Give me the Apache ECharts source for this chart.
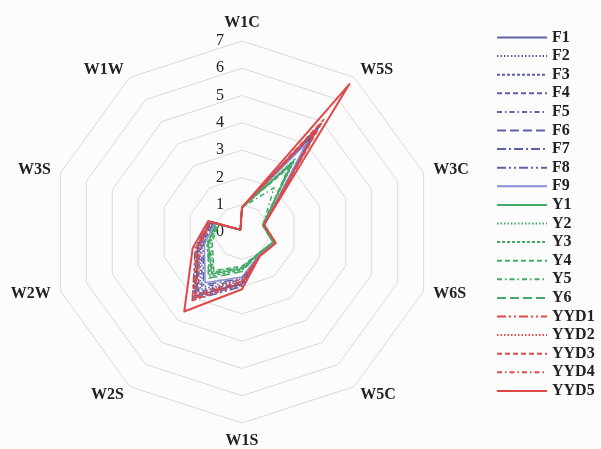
<!DOCTYPE html>
<html>
<head>
<meta charset="utf-8">
<script src="https://cdn.jsdelivr.net/npm/echarts@6/dist/echarts.min.js"></script>
<style>
html,body{margin:0;padding:0;background:#fcfcfc;}
#chart{width:601px;height:449px;}
</style>
</head>
<body>
<div id="chart"></div>
<script>
// Indicators in ECharts order (counter-clockwise from top)
const categories = ['W1C', 'W1W', 'W3S', 'W2W', 'W2S', 'W1S', 'W5C', 'W6S', 'W3C', 'W5S'];
const tickLabels = ['0', '1', '2', '3', '4', '5', '6', '7'];

const seriesNames = ['F1','F2','F3','F4','F5','F6','F7','F8','F9','Y1','Y2','Y3','Y4','Y5','Y6','YYD1','YYD2','YYD3','YYD4','YYD5'];

// values in category order
const F1 = [0.9, 0.1, 1.2, 1.7, 2.9, 1.9, 1.05, 1.25, 0.85, 4.6];
const F2 = [0.9, 0.1, 1.15, 1.6, 2.6, 1.8, 1.05, 1.25, 0.85, 4.4];
const F3 = [0.9, 0.1, 1.2, 1.75, 3.0, 1.95, 1.05, 1.25, 0.85, 4.8];
const F4 = [0.9, 0.1, 1.15, 1.65, 2.7, 1.85, 1.05, 1.25, 0.85, 4.5];
const F5 = [0.9, 0.1, 1.1, 1.55, 2.5, 1.75, 1.05, 1.25, 0.85, 4.2];
const F6 = [0.9, 0.1, 1.2, 1.7, 2.8, 1.9, 1.05, 1.25, 0.85, 4.7];
const F7 = [0.9, 0.1, 1.1, 1.5, 2.4, 1.7, 1.05, 1.25, 0.85, 4.3];
const F8 = [0.9, 0.1, 1.25, 1.8, 3.1, 2.0, 1.05, 1.25, 0.85, 4.9];
const F9 = [0.9, 0.1, 1.05, 1.45, 2.3, 1.65, 1.05, 1.25, 0.85, 4.0];
const Y1 = [0.9, 0.1, 1.0, 1.3, 1.9, 1.35, 1.0, 1.2, 0.8, 3.2];
const Y2 = [0.9, 0.1, 0.95, 1.2, 1.8, 1.3, 1.0, 1.2, 0.8, 3.0];
const Y3 = [0.9, 0.1, 1.0, 1.35, 2.0, 1.4, 1.0, 1.2, 0.8, 3.3];
const Y4 = [0.9, 0.1, 0.9, 1.15, 1.75, 1.25, 1.0, 1.2, 0.8, 2.9];
const Y5 = [0.9, 0.1, 0.95, 1.25, 1.85, 1.3, 1.0, 1.2, 0.8, 2.0];
const Y6 = [0.9, 0.1, 1.0, 1.3, 2.1, 1.45, 1.0, 1.2, 0.8, 3.1];
const YYD1 = [0.9, 0.1, 1.2, 1.7, 3.0, 1.8, 1.1, 1.3, 0.85, 4.8];
const YYD2 = [0.9, 0.1, 1.2, 1.6, 2.8, 1.7, 1.1, 1.3, 0.85, 4.5];
const YYD3 = [0.9, 0.1, 1.25, 1.75, 3.1, 1.9, 1.1, 1.3, 0.85, 5.1];
const YYD4 = [0.9, 0.1, 1.2, 1.65, 2.9, 1.8, 1.1, 1.3, 0.85, 4.6];
const YYD5 = [0.9, 0.1, 1.3, 1.9, 3.6, 2.1, 1.1, 1.3, 0.85, 6.7];

const seriesValues = [F1,F2,F3,F4,F5,F6,F7,F8,F9,Y1,Y2,Y3,Y4,Y5,Y6,YYD1,YYD2,YYD3,YYD4,YYD5];

// styles
const DASH = {
  solid: null,
  dot: [1.5, 2],
  shortDash: [3, 2],
  dash: [5, 3],
  dashDot: [5, 3, 1.5, 3],
  longDash: [9, 4],
  longDashDot: [9, 3, 2, 3],
  longDashDotDot: [9, 3, 2, 3, 2, 3]
};
const styleKeys = ['solid','dot','shortDash','dash','dashDot','longDash','longDashDot','longDashDotDot','solid',
  'solid','dot','shortDash','dash','dashDot','longDash',
  'longDashDotDot','dot','dash','dashDot','solid'];
const BLUE = '#5c62a6', BLUE_L = '#8a8ed4', GREEN = '#45aa68', RED = '#e04848';
const colors = [BLUE,BLUE,BLUE,BLUE,BLUE,BLUE,BLUE,BLUE,BLUE_L,
  GREEN,GREEN,GREEN,GREEN,GREEN,GREEN,
  RED,RED,RED,RED,RED];

function iconPath(key) {
  const W = 50, H = 2;
  const arr = DASH[key];
  if (!arr) return 'path://M0,0h' + W + 'v' + H + 'h-' + W + 'z';
  let p = '', x = 0, k = 0;
  while (x < W) {
    const len = arr[k % arr.length];
    if (k % 2 === 0) {
      const w = Math.min(len, W - x);
      p += 'M' + x + ',0h' + w + 'v' + H + 'h-' + w + 'z';
    }
    x += len; k++;
  }
  p += 'M' + (W - 0.01) + ',0h0.01v' + H + 'h-0.01z';
  return 'path://' + p;
}

const chart = echarts.init(document.getElementById('chart'), null, {renderer: 'canvas'});
const FONT = 'Liberation Serif';

chart.setOption({
  backgroundColor: '#fcfcfc',
  animation: false,
  legend: {
    orient: 'vertical',
    left: 492,
    top: 24.5,
    itemWidth: 50,
    itemHeight: 2,
    itemGap: 2.6,
    symbolKeepAspect: false,
    itemStyle: {borderWidth: 0},
    textStyle: {fontFamily: FONT, fontSize: 16, fontWeight: 'bold', color: '#222', lineHeight: 16, padding: [0, 0, 0, 0]},
    data: seriesNames.map((n, i) => ({name: n, icon: iconPath(styleKeys[i])}))
  },
  radar: {
    center: [242, 232],
    radius: 191,
    startAngle: 90,
    shape: 'polygon',
    splitNumber: 7,
    nameGap: 10,
    axisName: {color: '#222', fontFamily: FONT, fontSize: 16, fontWeight: 'bold'},
    indicator: categories.map((c, i) => i === 0
      ? {name: c, min: 0, max: 7, axisLabel: {show: true}}
      : {name: c, min: 0, max: 7}),
    axisLabel: {show: false, fontFamily: FONT, fontSize: 16, color: '#222', margin: 18,
      formatter: v => tickLabels[Math.round(v)] || ''},
    splitLine: {lineStyle: {color: '#dadada', width: 1}},
    splitArea: {show: false},
    axisLine: {show: false},
    axisTick: {show: false}
  },
  series: seriesNames.map((n, i) => ({
    type: 'radar',
    name: n,
    symbol: 'none',
    z: n === 'YYD5' ? 3 : 2,
    lineStyle: {color: colors[i], width: n === 'YYD5' ? 2 : 1.5, type: DASH[styleKeys[i]] || 'solid'},
    itemStyle: {color: colors[i]},
    data: [{name: n, value: seriesValues[i]}]
  }))
});
</script>
</body>
</html>
